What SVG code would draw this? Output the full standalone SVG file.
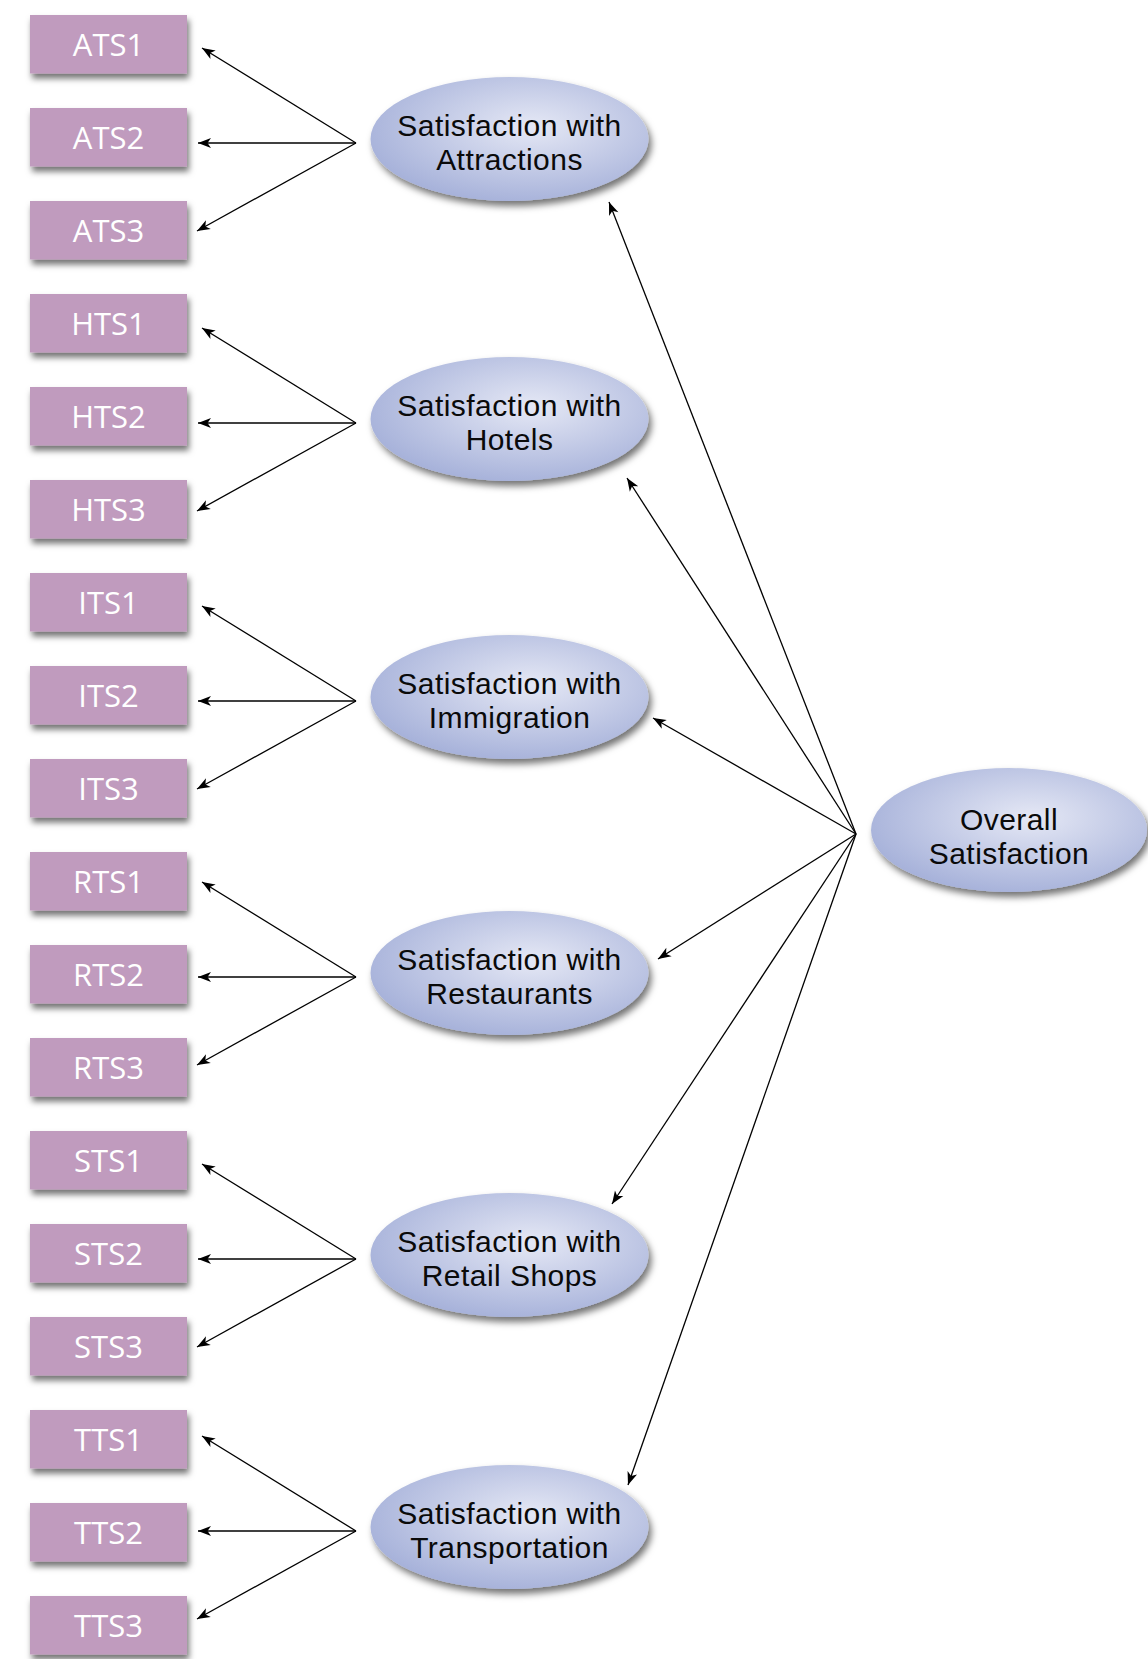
<svg xmlns="http://www.w3.org/2000/svg" width="1148" height="1659" viewBox="0 0 1148 1659">
<defs>
<radialGradient id="eg" cx="0.58" cy="0.4" r="0.62">
<stop offset="0" stop-color="#e5e8f5"/>
<stop offset="1" stop-color="#a7b2da"/>
</radialGradient>
<filter id="sh" x="-10%" y="-20%" width="125%" height="150%">
<feDropShadow dx="2" dy="5" stdDeviation="3" flood-color="#000" flood-opacity="0.55"/>
</filter>
<filter id="esh" x="-10%" y="-20%" width="125%" height="150%">
<feDropShadow dx="3" dy="5" stdDeviation="3.5" flood-color="#000" flood-opacity="0.55"/>
</filter>
<marker id="ah" markerUnits="userSpaceOnUse" markerWidth="16" markerHeight="12" viewBox="-14 -6 16 12" refX="0" refY="0" orient="auto">
<path d="M0,0 L-13,-5 L-9.5,0 L-13,5 Z" fill="#000"/>
</marker>
</defs>
<style>
.box{fill:#c09bbe;filter:url(#sh)}
.bt{font-family:"Open Sans","Noto Sans",sans-serif;font-size:31px;fill:#fff;text-anchor:middle}
.ell{fill:url(#eg);filter:url(#esh)}
.et{font-family:"Liberation Sans",Arial,sans-serif;font-size:30px;letter-spacing:0.45px;fill:#0a0a0a;text-anchor:middle}
.c{stroke:#000;stroke-width:1.3;fill:none;marker-end:url(#ah)}
</style>
<rect width="1148" height="1659" fill="#fff"/>
<g id="connectors">
<line class="c" x1="356" y1="143" x2="202" y2="48"/>
<line class="c" x1="356" y1="143" x2="198" y2="143"/>
<line class="c" x1="356" y1="143" x2="197" y2="231"/>
<line class="c" x1="356" y1="423" x2="202" y2="328"/>
<line class="c" x1="356" y1="423" x2="198" y2="423"/>
<line class="c" x1="356" y1="423" x2="197" y2="511"/>
<line class="c" x1="356" y1="701" x2="202" y2="606"/>
<line class="c" x1="356" y1="701" x2="198" y2="701"/>
<line class="c" x1="356" y1="701" x2="197" y2="789"/>
<line class="c" x1="356" y1="977" x2="202" y2="882"/>
<line class="c" x1="356" y1="977" x2="198" y2="977"/>
<line class="c" x1="356" y1="977" x2="197" y2="1065"/>
<line class="c" x1="356" y1="1259" x2="202" y2="1164"/>
<line class="c" x1="356" y1="1259" x2="198" y2="1259"/>
<line class="c" x1="356" y1="1259" x2="197" y2="1347"/>
<line class="c" x1="356" y1="1531" x2="202" y2="1436"/>
<line class="c" x1="356" y1="1531" x2="198" y2="1531"/>
<line class="c" x1="356" y1="1531" x2="197" y2="1619"/>
<line class="c" x1="856" y1="834" x2="609" y2="202"/>
<line class="c" x1="856" y1="834" x2="627" y2="478"/>
<line class="c" x1="856" y1="834" x2="653" y2="718"/>
<line class="c" x1="856" y1="834" x2="658" y2="959"/>
<line class="c" x1="856" y1="834" x2="612" y2="1204"/>
<line class="c" x1="856" y1="834" x2="628" y2="1485"/>
</g>
<g id="ATS1"><rect class="box" x="30" y="15" width="157" height="58.5"/><text class="bt" x="108.5" y="55.5">ATS1</text></g>
<g id="ATS2"><rect class="box" x="30" y="108" width="157" height="58.5"/><text class="bt" x="108.5" y="148.5">ATS2</text></g>
<g id="ATS3"><rect class="box" x="30" y="201" width="157" height="58.5"/><text class="bt" x="108.5" y="241.5">ATS3</text></g>
<g id="HTS1"><rect class="box" x="30" y="294" width="157" height="58.5"/><text class="bt" x="108.5" y="334.5">HTS1</text></g>
<g id="HTS2"><rect class="box" x="30" y="387" width="157" height="58.5"/><text class="bt" x="108.5" y="427.5">HTS2</text></g>
<g id="HTS3"><rect class="box" x="30" y="480" width="157" height="58.5"/><text class="bt" x="108.5" y="520.5">HTS3</text></g>
<g id="ITS1"><rect class="box" x="30" y="573" width="157" height="58.5"/><text class="bt" x="108.5" y="613.5">ITS1</text></g>
<g id="ITS2"><rect class="box" x="30" y="666" width="157" height="58.5"/><text class="bt" x="108.5" y="706.5">ITS2</text></g>
<g id="ITS3"><rect class="box" x="30" y="759" width="157" height="58.5"/><text class="bt" x="108.5" y="799.5">ITS3</text></g>
<g id="RTS1"><rect class="box" x="30" y="852" width="157" height="58.5"/><text class="bt" x="108.5" y="892.5">RTS1</text></g>
<g id="RTS2"><rect class="box" x="30" y="945" width="157" height="58.5"/><text class="bt" x="108.5" y="985.5">RTS2</text></g>
<g id="RTS3"><rect class="box" x="30" y="1038" width="157" height="58.5"/><text class="bt" x="108.5" y="1078.5">RTS3</text></g>
<g id="STS1"><rect class="box" x="30" y="1131" width="157" height="58.5"/><text class="bt" x="108.5" y="1171.5">STS1</text></g>
<g id="STS2"><rect class="box" x="30" y="1224" width="157" height="58.5"/><text class="bt" x="108.5" y="1264.5">STS2</text></g>
<g id="STS3"><rect class="box" x="30" y="1317" width="157" height="58.5"/><text class="bt" x="108.5" y="1357.5">STS3</text></g>
<g id="TTS1"><rect class="box" x="30" y="1410" width="157" height="58.5"/><text class="bt" x="108.5" y="1450.5">TTS1</text></g>
<g id="TTS2"><rect class="box" x="30" y="1503" width="157" height="58.5"/><text class="bt" x="108.5" y="1543.5">TTS2</text></g>
<g id="TTS3"><rect class="box" x="30" y="1596" width="157" height="58.5"/><text class="bt" x="108.5" y="1636.5">TTS3</text></g>
<g id="SatAttractions"><ellipse class="ell" cx="509.5" cy="139" rx="139" ry="62"/><text class="et"><tspan x="509.5" y="136">Satisfaction with</tspan><tspan x="509.5" y="170">Attractions</tspan></text></g>
<g id="SatHotels"><ellipse class="ell" cx="509.5" cy="419" rx="139" ry="62"/><text class="et"><tspan x="509.5" y="416">Satisfaction with</tspan><tspan x="509.5" y="450">Hotels</tspan></text></g>
<g id="SatImmigration"><ellipse class="ell" cx="509.5" cy="697" rx="139" ry="62"/><text class="et"><tspan x="509.5" y="694">Satisfaction with</tspan><tspan x="509.5" y="728">Immigration</tspan></text></g>
<g id="SatRestaurants"><ellipse class="ell" cx="509.5" cy="973" rx="139" ry="62"/><text class="et"><tspan x="509.5" y="970">Satisfaction with</tspan><tspan x="509.5" y="1004">Restaurants</tspan></text></g>
<g id="SatRetail"><ellipse class="ell" cx="509.5" cy="1255" rx="139" ry="62"/><text class="et"><tspan x="509.5" y="1252">Satisfaction with</tspan><tspan x="509.5" y="1286">Retail Shops</tspan></text></g>
<g id="SatTransportation"><ellipse class="ell" cx="509.5" cy="1527" rx="139" ry="62"/><text class="et"><tspan x="509.5" y="1524">Satisfaction with</tspan><tspan x="509.5" y="1558">Transportation</tspan></text></g>
<g id="Overall"><ellipse class="ell" cx="1009" cy="830" rx="138" ry="62"/><text class="et"><tspan x="1009" y="830">Overall</tspan><tspan x="1009" y="864">Satisfaction</tspan></text></g>
</svg>
